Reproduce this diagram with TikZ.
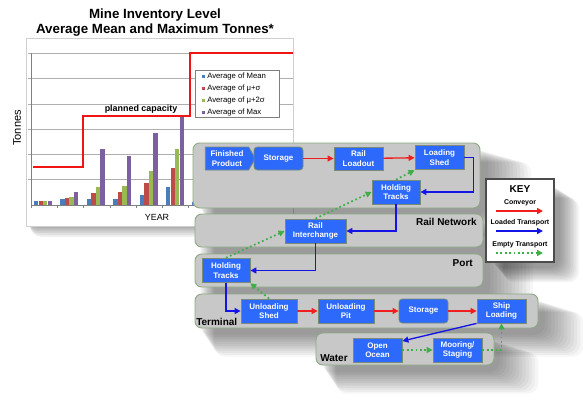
\documentclass[tikz,border=0pt]{standalone}
\usepackage{fontspec}
\setmainfont{Liberation Sans}
\usetikzlibrary{arrows.meta,shapes.symbols,shadows.blur}
\definecolor{barblue}{RGB}{74,126,187}
\definecolor{barred}{RGB}{190,75,72}
\definecolor{bargreen}{RGB}{152,185,84}
\definecolor{barpurple}{RGB}{125,96,160}
\definecolor{boxblue}{RGB}{45,105,250}
\definecolor{boxline}{RGB}{120,140,120}
\definecolor{panelfill}{RGB}{200,200,200}
\definecolor{panelline}{RGB}{140,170,130}
\definecolor{convred}{RGB}{240,30,30}
\definecolor{loadblue}{RGB}{20,20,230}
\definecolor{emptygreen}{RGB}{60,175,70}
\definecolor{capred}{RGB}{240,20,20}
\definecolor{gridgray}{RGB}{175,175,175}
\begin{document}
\begin{tikzpicture}[x=0.75pt,y=-0.75pt,
  box/.style={draw=boxline, fill=boxblue, line width=0.6pt, text=white,
    font=\bfseries\fontsize{6}{7}\selectfont, align=center, inner sep=0pt,
    minimum width=36.75pt, minimum height=17.25pt},
  panel/.style={draw=panelline, fill=panelfill, rounded corners=5pt, line width=0.7pt},
  shade/.style={fill=black, rounded corners=8pt, opacity=0.06},
  plabel/.style={font=\bfseries\fontsize{7.5}{9}\selectfont, inner sep=0pt},
  tip/.style={-{Triangle[length=4.5pt,width=4.5pt]}},
  conv/.style={tip, draw=convred, line width=1pt},
  load/.style={tip, draw=loadblue, line width=1pt},
  empty/.style={tip, draw=emptygreen, line width=1.3pt, dotted},
  legtxt/.style={font=\fontsize{5.8}{7}\selectfont, anchor=west, inner sep=0pt},
  keytxt/.style={font=\bfseries\fontsize{5.2}{6}\selectfont, inner sep=0pt}
]
\useasboundingbox (0,0) rectangle (583,408);
\fill[white] (0,0) rectangle (583,408);
% ---------- chart ----------
\node[font=\bfseries\fontsize{10}{12}\selectfont, inner sep=0pt] (t1) at (155,15) {Mine Inventory Level};
\node[font=\bfseries\fontsize{10}{12}\selectfont, inner sep=0pt] (t2) at (155,30) {Average Mean and Maximum Tonnes*};
\foreach \s in {0,1.5,...,9}{ \fill[shade] (26+\s*0.5,40+\s) rectangle (293-\s*0.3,226+\s*1.2); }
\fill[white] (26,38) rectangle (293,226);
\draw[gridgray!60, line width=0.4pt] (26,38) rectangle (293,226);
\foreach \yy in {53,78,104,129,154,179}{
  \draw[gridgray, line width=0.5pt] (31,\yy) -- (293,\yy);
  \draw[gridgray, line width=0.5pt] (28,\yy) -- (31,\yy);
}
\draw[gray, line width=0.5pt] (31,53) -- (31,205) -- (293,205);
\foreach \k in {0,...,7}{ \draw[gray, line width=0.5pt] (31+26.3*\k,205) -- (31+26.3*\k,208); }
\foreach \g/\a/\b/\c/\d in {0/201/201/201/201, 1/199/198/197/192, 2/199/193/187/149, 3/199/192/186/156, 4/195/183/171/133, 5/187/168/149/117, 6/202/200/198/192}{
  \pgfmathsetmacro\xo{34+26.4*\g}
  \fill[barblue] (\xo,\a) rectangle (\xo+4.4,205);
  \fill[barred] (\xo+4.5,\b) rectangle (\xo+8.9,205);
  \fill[bargreen] (\xo+9,\c) rectangle (\xo+13.4,205);
  \fill[barpurple] (\xo+13.5,\d) rectangle (\xo+17.9,205);
}
\draw[capred, line width=1.6pt] (33,167) -- (83,167) -- (83,116) -- (190,116) -- (190,53) -- (293,53);
\node[font=\bfseries\fontsize{6.7}{8}\selectfont, inner sep=0pt] (pc) at (141,109) {planned capacity};
\draw[gray, fill=white, line width=0.5pt] (195,70) rectangle (279,117);
\fill[barblue] (201.5,74.5) rectangle (205,78);
\node[legtxt] (l1) at (207,76.5) {Average of Mean};
\fill[barred] (201.5,86.5) rectangle (205,90);
\node[legtxt] (l2) at (207,88.5) {Average of μ+σ};
\fill[bargreen] (201.5,98.5) rectangle (205,102);
\node[legtxt] (l3) at (207,100.5) {Average of μ+2σ};
\fill[barpurple] (201.5,110.5) rectangle (205,114);
\node[legtxt] (l4) at (207,112.5) {Average of Max};
\node[font=\fontsize{8.3}{10}\selectfont, rotate=90, inner sep=0pt] (ton) at (17,128) {Tonnes};
\node[font=\fontsize{6.7}{8}\selectfont, inner sep=0pt] (yr) at (157,217) {YEAR};
% ---------- soft shadow under the flow panels ----------
\foreach \s in {0,2,...,24}{
  \fill[shade, opacity=0.035] (200+\s*0.6,150+\s*0.5) rectangle (488+\s*1.8,215+\s*0.9);
  \fill[shade, opacity=0.035] (200+\s*0.6,222+\s*0.5) rectangle (490+\s*1.8,300+\s*0.9);
  \fill[shade, opacity=0.035] (200+\s*0.6,300+\s*0.5) rectangle (545+\s*1.6,335+\s*0.9);
  \fill[shade, opacity=0.035] (322+\s*0.6,340+\s*0.5) rectangle (500+\s*1.6,372+\s*0.9);
  \fill[shade, opacity=0.035] (492+\s*0.5,186+\s*0.5) rectangle (560+\s*0.8,268+\s*0.6);
}
% ---------- panels ----------
\draw[panel] (193,143) rectangle (480,208);
\draw[panel] (195,214) rectangle (483,247);
\draw[panel] (195,254) rectangle (483,287);
\draw[panel] (195,294) rectangle (538,328);
\draw[panel] (316,333) rectangle (494,365);
\node[plabel, anchor=east] (lrn) at (477,222) {Rail Network};
\node[plabel, anchor=east] (lport) at (473,263) {Port};
\node[plabel, anchor=west] (lterm) at (196,322) {Terminal};
\node[plabel, anchor=west] (lwater) at (320,358) {Water};
% ---------- key ----------
\draw[draw=black!70, fill=white, line width=0.8pt] (486,179) rectangle (554,262);
\node[font=\bfseries\fontsize{7.5}{9}\selectfont, inner sep=0pt] (key) at (520,189) {KEY};
\node[keytxt] (kc) at (520,203) {Conveyor};
\coordinate (k1a) at (496,211); \coordinate (k1b) at (543,211);
\draw[conv] (k1a) -- (k1b);
\node[keytxt] (kl) at (520,223) {Loaded Transport};
\coordinate (k2a) at (496,231); \coordinate (k2b) at (543,231);
\draw[load] (k2a) -- (k2b);
\node[keytxt] (ke) at (520,245) {Empty Transport};
\coordinate (k3a) at (496,253); \coordinate (k3b) at (543,253);
\draw[empty] (k3a) -- (k3b);
% ---------- boxes ----------
\node[box, signal, signal to=east, signal pointer angle=120, minimum width=37.5pt] (fp) at (227,158.5) {Finished\\Product};
\node[box, rounded corners=2.5pt] (st1) at (278.5,158.5) {Storage};
\node[box] (rl) at (358.5,158.5) {Rail\\Loadout};
\node[box, minimum height=18.5pt] (ls) at (439.5,157.5) {Loading\\Shed};
\node[box, minimum width=36pt, minimum height=18pt] (ht1) at (396,192) {Holding\\Tracks};
\node[box, minimum width=45.75pt, minimum height=18pt] (ri) at (315.5,231) {Rail\\Interchange};
\node[box, minimum width=36pt, minimum height=18.5pt] (ht2) at (226,270.5) {Holding\\Tracks};
\node[box, minimum width=42pt, minimum height=18pt] (us) at (269,311) {Unloading\\Shed};
\node[box, minimum width=42pt, minimum height=18pt] (up) at (346,311) {Unloading\\Pit};
\node[box, rounded corners=2.5pt, minimum height=18pt] (st2) at (423.5,311) {Storage};
\node[box, minimum height=18pt] (sl) at (501.5,311) {Ship\\Loading};
\node[box, minimum height=18pt] (oo) at (377.5,350) {Open\\Ocean};
\node[box, minimum height=18pt] (ms) at (457.5,350) {Mooring/\\Staging};
% ---------- connectors ----------
\draw[conv] (st1) -- (rl);
\draw[conv] (rl) -- (ls);
\draw[load] (ls.east) -- ++(9,0) |- (ht1.east);
\draw[load] (ht1.south) |- (ri.east);
\draw[load] (ri.south) |- (ht2.east);
\draw[load] (ht2.south) |- (us.west);
\draw[conv] (us) -- (up);
\draw[conv] (up) -- (st2);
\draw[conv] (st2) -- (sl);
\draw[load] (sl.south west) -- ([yshift=6.75pt]oo.east);
\draw[empty] (oo) -- (ms);
\draw[empty] (ms.east) -| (sl.south);
\draw[empty] (us.north) -- (ht2.south east);
\draw[empty] (ht2.north) -- (ri.west);
\draw[empty] (ri.north) -- (ht1.west);
\draw[empty] (ht1.north) -- (ls.south west);
\end{tikzpicture}
\end{document}
